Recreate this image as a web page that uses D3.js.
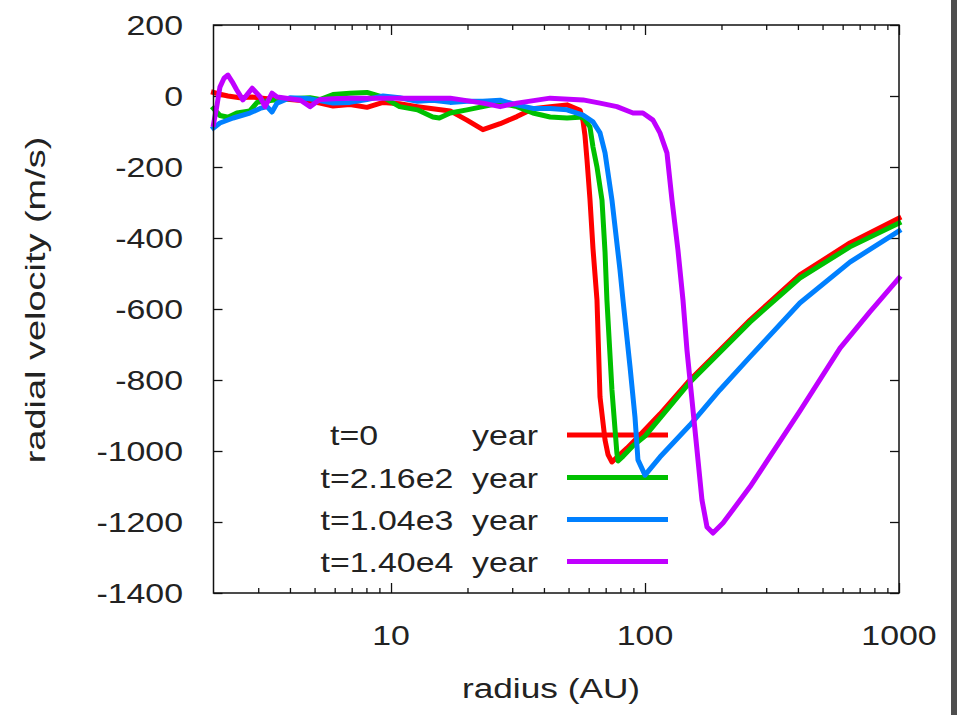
<!DOCTYPE html>
<html>
<head>
<meta charset="utf-8">
<script src="https://cdn.jsdelivr.net/npm/d3@7"></script>
<style>
  html, body { margin: 0; padding: 0; background: #fff; }
  svg { display: block; }
  text { font-family: "Liberation Sans", Arial, sans-serif; fill: #222; }
</style>
</head>
<body>
<svg id="chart" width="957" height="715"></svg>
<script>
// Radial velocity profiles [radius (AU), velocity (m/s)] at four epochs
const profileT0 = [
  [2.00, 10], [2.12, 5], [2.28, 0], [2.54, -5], [2.84, -3], [3.25, -8], [3.56, -5], [4.0, -10],
  [4.8, -15], [5.25, -20], [5.91, -28], [6.89, -24], [8.04, -32], [9.3, -18], [10.8, -22],
  [12.7, -30], [14.6, -36], [17.1, -42], [19.9, -68], [23.0, -95], [26.9, -78], [31.3, -58],
  [36.2, -36], [42.3, -30], [49.3, -25], [55.5, -40], [57.0, -70], [58.0, -110], [59.1, -180],
  [60.7, -290], [62.4, -430], [64.7, -575], [66.5, -848], [69.6, -969], [71.5, -1010],
  [74.1, -1031], [77.5, -1018], [84.9, -992], [95.5, -955], [114.5, -896], [150.3, -800],
  [197, -716], [259, -631], [407, -504], [641, -414], [1000, -344]
];
const profileT216 = [
  [2.00, -35], [2.12, -55], [2.28, -60], [2.47, -48], [2.78, -42], [2.97, -18], [3.40, -12],
  [4.0, -8], [4.8, -5], [5.25, -10], [5.91, 4], [6.89, 8], [8.04, 10], [8.49, 5], [9.3, -3],
  [10.8, -30], [12.7, -39], [14.6, -59], [15.5, -62], [17.1, -48], [19.9, -39], [23.0, -30],
  [26.9, -20], [31.3, -30], [36.2, -48], [42.3, -59], [49.3, -62], [57.0, -59], [60.7, -87],
  [62.4, -144], [64.7, -200], [67.7, -293], [69.6, -440], [70.8, -575], [74.1, -828],
  [77.5, -1006], [78.3, -1028], [81.9, -1015], [89.7, -985], [100, -958], [150.3, -806],
  [259, -637], [407, -513], [641, -425], [1000, -358]
];
const profileT1040 = [
  [2.00, -90], [2.12, -76], [2.39, -62], [2.78, -48], [3.05, -35], [3.25, -30], [3.40, -45],
  [3.56, -20], [4.0, -5], [4.8, -8], [5.91, -20], [6.89, -18], [8.04, -10], [9.3, 0],
  [10.8, -5], [12.7, -15], [14.6, -12], [17.1, -18], [19.9, -15], [23.0, -15], [26.9, -12],
  [31.3, -25], [36.2, -35], [42.3, -35], [49.3, -39], [57.0, -54], [62.4, -73], [66.5, -104],
  [69.6, -160], [74.1, -293], [79.7, -490], [81.9, -575], [87.3, -763], [91.3, -904],
  [93.8, -1025], [100, -1068], [114.5, -1017], [150.3, -927], [197, -828], [259, -735],
  [407, -583], [641, -468], [1000, -380]
];
const profileT14000 = [
  [2.00, -80], [2.06, -30], [2.12, 25], [2.20, 50], [2.28, 59], [2.37, 40], [2.47, 17],
  [2.61, -11], [2.84, 22], [3.05, -2], [3.19, -30], [3.40, 8], [3.56, -3], [4.0, -8],
  [4.4, -12], [4.8, -30], [5.25, -10], [5.91, -8], [6.89, -6], [8.04, -6], [10.8, -6],
  [17.1, -6], [23.0, -20], [26.9, -30], [31.3, -20], [42.3, -6], [57.0, -11], [66.5, -20],
  [77.5, -30], [89.7, -48], [98.1, -48], [107.5, -68], [114.5, -104], [122, -160],
  [127.7, -293], [134.8, -434], [141.1, -575], [146.3, -716], [153.1, -856], [160.2, -997],
  [167.6, -1138], [175.4, -1214], [185.2, -1231], [202.8, -1203], [259, -1101], [407, -888],
  [586, -710], [768, -608], [1000, -513]
];

const legendTitles = ["t=0          year", "t=2.16e2  year", "t=1.04e3  year", "t=1.40e4  year"];
const seriesColors = ["#ff0000", "#00c000", "#0080ff", "#c000ff"];
const profiles = [profileT0, profileT216, profileT1040, profileT14000];

const xMajorTicks = [10, 100, 1000];
const xMinorTicks = [3, 4, 5, 6, 7, 8, 9, 20, 30, 40, 50, 60, 70, 80, 90, 200, 300, 400, 500, 600, 700, 800, 900];
const yTicks = [200, 0, -200, -400, -600, -800, -1000, -1200, -1400];

// Layout
const W = 957, H = 715;
const plot = { left: 213.5, right: 899, top: 25, bottom: 593 };
const fontSize = 28;
const stretch = 1.21; // wide glyph advance of the label font

const svg = d3.select("#chart");
svg.append("rect").attr("width", W).attr("height", H).attr("fill", "#fff");
svg.append("rect").attr("x", 951).attr("y", 0).attr("width", 6).attr("height", H).attr("fill", "#4e4e4e");

const x = d3.scaleLog().domain([2, 1000]).range([plot.left, plot.right]);
const y = d3.scaleLinear().domain([-1400, 200]).range([plot.bottom, plot.top]);

function label(g, str, tx, ty, anchor, rotate, extra) {
  const s = stretch * (extra || 1);
  return g.append("text")
    .attr("transform", `translate(${tx},${ty})` + (rotate ? ` rotate(${rotate})` : "") + ` scale(${s},1)`)
    .attr("text-anchor", anchor)
    .style("font-size", fontSize + "px")
    .style("white-space", "pre")
    .text(str);
}

// Axes: ticks drawn inward on all four sides
const axesG = svg.append("g");
function styleAxis(g) {
  g.select(".domain").remove();
  g.selectAll(".tick line").attr("stroke", "#111").attr("stroke-width", 1.3);
  g.selectAll(".tick text").remove();
}
axesG.append("g").attr("transform", `translate(0,${plot.bottom})`)
  .call(d3.axisBottom(x).tickValues(xMajorTicks).tickSize(-10).tickFormat(""))
  .call(styleAxis);
axesG.append("g").attr("transform", `translate(0,${plot.bottom})`)
  .call(d3.axisBottom(x).tickValues(xMinorTicks).tickSize(-5).tickFormat(""))
  .call(styleAxis);
axesG.append("g").attr("transform", `translate(0,${plot.top})`)
  .call(d3.axisTop(x).tickValues(xMajorTicks).tickSize(-10).tickFormat(""))
  .call(styleAxis);
axesG.append("g").attr("transform", `translate(0,${plot.top})`)
  .call(d3.axisTop(x).tickValues(xMinorTicks).tickSize(-5).tickFormat(""))
  .call(styleAxis);
axesG.append("g").attr("transform", `translate(${plot.left},0)`)
  .call(d3.axisLeft(y).tickValues(yTicks).tickSize(-9).tickFormat(""))
  .call(styleAxis);
axesG.append("g").attr("transform", `translate(${plot.right},0)`)
  .call(d3.axisRight(y).tickValues(yTicks).tickSize(-9).tickFormat(""))
  .call(styleAxis);

// Tick labels (plain hyphen minus)
const labelsG = svg.append("g");
yTicks.forEach(v => label(labelsG, String(v), 183, y(v) + 10, "end"));
xMajorTicks.forEach(v => label(labelsG, String(v), x(v), 645, "middle"));

// Axis titles
label(labelsG, "radius (AU)", 551, 698, "middle", 0, 1.04);
label(labelsG, "radial velocity (m/s)", 45, 300, "middle", -90, 1.12);

// Curves with their key entries
const line = d3.line().x(d => x(d[0])).y(d => y(d[1]));
const keyRowY = [435, 477.5, 519.5, 561.5];
const curvesG = svg.append("g");
profiles.forEach((p, i) => {
  label(curvesG, legendTitles[i], 538, keyRowY[i] + 10, "end");
  curvesG.append("line")
    .attr("x1", 567).attr("x2", 668)
    .attr("y1", keyRowY[i]).attr("y2", keyRowY[i])
    .attr("stroke", seriesColors[i]).attr("stroke-width", 5);
  curvesG.append("path")
    .attr("d", line(p))
    .attr("fill", "none")
    .attr("stroke", seriesColors[i])
    .attr("stroke-width", 5)
    .attr("stroke-linejoin", "round")
    .attr("stroke-linecap", "square");
});

// Frame
svg.append("rect")
  .attr("x", plot.left).attr("y", plot.top)
  .attr("width", plot.right - plot.left).attr("height", plot.bottom - plot.top)
  .attr("fill", "none").attr("stroke", "#111").attr("stroke-width", 1.5);
</script>
</body>
</html>
